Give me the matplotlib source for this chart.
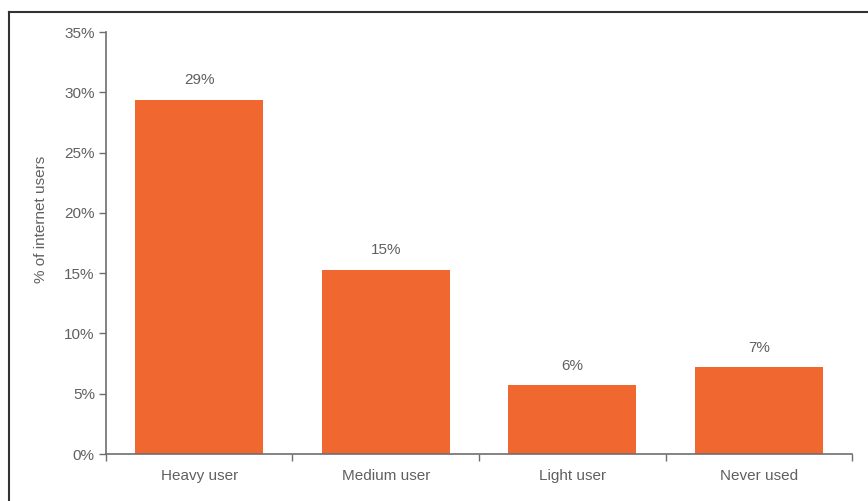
"""
Share of internet users by usage category - bar chart
"""
import matplotlib

matplotlib.use("Agg")
import matplotlib.pyplot as plt
from matplotlib.lines import Line2D

# Data
categories = ["Heavy user", "Medium user", "Light user", "Never used"]
shares = [29.4, 15.3, 5.7, 7.2]
share_labels = ["29%", "15%", "6%", "7%"]
y_ticks = [0, 5, 10, 15, 20, 25, 30, 35]

BAR_COLOUR = "#f06730"
TEXT_COLOUR = "#606060"
AXIS_COLOUR = "#6e6e6e"
FONT_SIZE = 11

plt.rcParams["font.family"] = ["Liberation Sans", "DejaVu Sans"]

fig = plt.figure(figsize=(8.68, 5.01), dpi=100)
ax = fig.add_axes([0.1221, 0.0938, 0.8595, 0.8423])

x = range(len(categories))
bars = ax.bar(x, shares, width=0.685, color=BAR_COLOUR, zorder=2)

# Value labels above each bar
for bar, label in zip(bars, share_labels):
    ax.annotate(
        label,
        (bar.get_x() + bar.get_width() / 2, bar.get_height()),
        xytext=(0, 9),
        textcoords="offset points",
        ha="center",
        va="bottom",
        fontsize=FONT_SIZE,
        color=TEXT_COLOUR,
    )

ax.set_xlim(-0.5, len(categories) - 0.5)
ax.set_ylim(0, 35)

# x ticks sit between categories, labels in the middle
ax.set_xticks([i - 0.5 for i in range(len(categories) + 1)])
ax.set_xticklabels([])
ax.set_xticks(list(x), minor=True)
ax.set_xticklabels(categories, minor=True)
ax.tick_params(axis="x", which="minor", length=0, pad=11, labelsize=FONT_SIZE,
               labelcolor=TEXT_COLOUR)
ax.tick_params(axis="x", which="major", length=5, width=1, color=AXIS_COLOUR)

ax.set_yticks(y_ticks)
ax.set_yticklabels([f"{t}%" for t in y_ticks])
ax.tick_params(axis="y", length=5, width=1, color=AXIS_COLOUR, pad=3,
               labelsize=FONT_SIZE, labelcolor=TEXT_COLOUR)

ax.set_ylabel("% of internet users", fontsize=FONT_SIZE, color=TEXT_COLOUR)
ax.yaxis.set_label_coords(-0.078, 0.555)

for side in ["top", "right"]:
    ax.spines[side].set_visible(False)
for side in ["left", "bottom"]:
    ax.spines[side].set_color(AXIS_COLOUR)
    ax.spines[side].set_linewidth(1.2)

# Frame around the chart (only top and left edges show in the crop)
fig.add_artist(Line2D([9 / 868, 1.0], [1 - 11.5 / 501] * 2,
                      transform=fig.transFigure, color="#333333", linewidth=1.5))
fig.add_artist(Line2D([9 / 868] * 2, [0.0, 1 - 11.5 / 501],
                      transform=fig.transFigure, color="#333333", linewidth=1.5))

fig.savefig("out.png", dpi=100)
